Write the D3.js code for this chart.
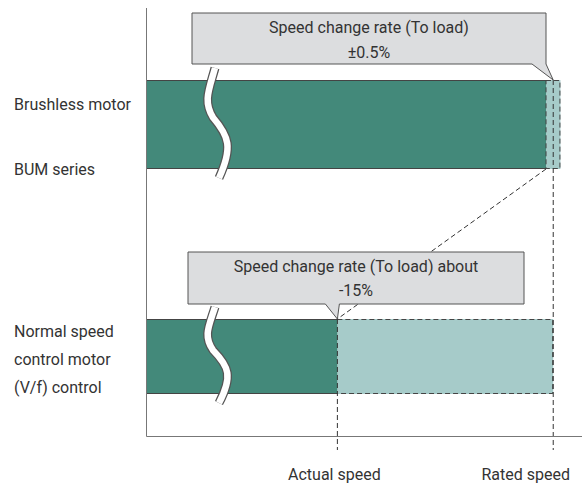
<!DOCTYPE html>
<html><head><meta charset="utf-8">
<script src="https://cdn.jsdelivr.net/npm/d3@7"></script>
<style>
html,body{margin:0;padding:0;background:#fff;}
text{font-family:Roboto,"Liberation Sans",Arial,sans-serif;fill:#333;}
</style></head>
<body><svg id="c" width="582" height="486"></svg>
<script>
// ---- data ----
const categories = ["Brushless motor BUM series", "Normal speed control motor (V/f) control"];
const categoryLabels = [["Brushless motor", "", "BUM series"], ["Normal speed", "control motor", "(V/f) control"]];
const ratedSpeed = 100;                 // % of rated speed
const actualSpeed = [100, 85];          // speed under load (%)
const rangeLow = [99.5, 85];            // lower bound of speed change band
const rangeHigh = [100.5, 100];         // upper bound of speed change band
const calloutLines = [["Speed change rate (To load)", "\u00b10.5%"], ["Speed change rate (To load) about", "-15%"]];
const tickValues = [85, 100];
const tickLabels = ["Actual speed", "Rated speed"];

// ---- layout ----
const svg = d3.select("#c");
const axisLeft = 146, axisBottom = 436, axisTop = 8, axisRight = 582;
const x = d3.scaleLinear().domain([71.7, 102]).range([axisLeft, axisRight]);
const y = d3.scalePoint().domain(categories).range([124.5, 356.5]);
const barH = [89, 75];
const dark = "#43897a", light = "#a6cbc9", edge = "#444";

// diagonal connector (behind callouts)
svg.append("line")
  .attr("x1", x(rangeLow[0])).attr("y1", y(categories[0]) + barH[0]/2)
  .attr("x2", x(actualSpeed[1])).attr("y2", y(categories[1]) - barH[1]/2)
  .attr("stroke", "#333").attr("stroke-width", 1).attr("stroke-dasharray", "5,3");

// bars
categories.forEach((c, i) => {
  const top = y(c) - barH[i]/2, h = barH[i];
  const darkEnd = i === 0 ? x(rangeLow[i]) : x(actualSpeed[i]);
  // light band
  svg.append("rect").attr("x", x(rangeLow[i])).attr("y", top)
    .attr("width", x(rangeHigh[i]) - x(rangeLow[i])).attr("height", h)
    .attr("fill", light);
  // dark bar
  svg.append("rect").attr("x", axisLeft).attr("y", top)
    .attr("width", darkEnd - axisLeft).attr("height", h)
    .attr("fill", dark);
  // dark bar solid edges
  svg.append("path").attr("d", `M${axisLeft},${top+0.5}H${darkEnd}M${axisLeft},${top+h-0.5}H${darkEnd}`)
    .attr("stroke", edge).attr("stroke-width", 1).attr("fill", "none");
  // light band dashed outline
  svg.append("path")
    .attr("d", `M${x(rangeLow[i])},${top+0.5}H${x(rangeHigh[i])-0.5}V${top+h-0.5}H${x(rangeLow[i])}` + (i===0 ? `V${top}` : ""))
    .attr("stroke", edge).attr("stroke-width", 1).attr("fill", "none").attr("stroke-dasharray", "5,3");
  // break squiggle
  const bx = 207, yt = top - 12, yb = top + h + 9, hh = yb - yt;
  const p = d3.path();
  p.moveTo(bx + 8, yt);
  p.bezierCurveTo(bx + 2, yt + hh*0.2, bx - 4, yt + hh*0.3, bx + 6, yt + hh*0.45);
  p.bezierCurveTo(bx + 22, yt + hh*0.62, bx + 26, yt + hh*0.72, bx + 12, yb);
  svg.append("path").attr("d", p.toString()).attr("fill", "none").attr("stroke", "#555").attr("stroke-width", 9);
  svg.append("path").attr("d", p.toString()).attr("fill", "none").attr("stroke", "#fff").attr("stroke-width", 6.5);
});

// reference dashed verticals
svg.append("line").attr("x1", x(ratedSpeed)).attr("x2", x(ratedSpeed))
  .attr("y1", y(categories[0]) - barH[0]/2).attr("y2", 450)
  .attr("stroke", "#333").attr("stroke-dasharray", "5,3");
svg.append("line").attr("x1", x(actualSpeed[1])).attr("x2", x(actualSpeed[1]))
  .attr("y1", y(categories[1]) - barH[1]/2).attr("y2", 450)
  .attr("stroke", "#333").attr("stroke-dasharray", "5,3");

// axes
svg.append("path").attr("d", `M${axisLeft+0.5},${axisTop}V${axisBottom+0.5}H${axisRight}`)
  .attr("fill", "none").attr("stroke", "#777").attr("stroke-width", 1);

// callouts
const fill = "#dcdddf";
// callout 1
{
  const L = 192, R = 546, T = 13, B = 64, tipX = x(ratedSpeed), tipY = y(categories[0]) - barH[0]/2;
  svg.append("path").attr("d", `M${L},${T}H${R}V${B}L${tipX},${tipY}L${R-14},${B}H${L}Z`)
    .attr("fill", fill).attr("stroke", "#555").attr("stroke-width", 1);
  const cx = (L + R)/2;
  svg.append("text").attr("x", cx).attr("y", 33).attr("text-anchor", "middle").attr("font-size", 16).text(calloutLines[0][0]);
  svg.append("text").attr("x", cx).attr("y", 58).attr("text-anchor", "middle").attr("font-size", 16).text(calloutLines[0][1]);
}
// callout 2
{
  const L = 188, R = 524, T = 252, B = 304, tipX = x(actualSpeed[1]), tipY = y(categories[1]) - barH[1]/2;
  svg.append("path").attr("d", `M${L},${T}H${R}V${B}H${tipX+2}L${tipX},${tipY}L${tipX-12},${B}H${L}Z`)
    .attr("fill", fill).attr("stroke", "#555").attr("stroke-width", 1);
  const cx = (L + R)/2;
  svg.append("text").attr("x", cx).attr("y", 272).attr("text-anchor", "middle").attr("font-size", 16).text(calloutLines[1][0]);
  svg.append("text").attr("x", cx).attr("y", 296).attr("text-anchor", "middle").attr("font-size", 16).text(calloutLines[1][1]);
}

// category labels
const labelBase = [[110, 142, 175], [337, 365, 393]];
categoryLabels.forEach((lines, i) => {
  lines.forEach((t, j) => {
    if (!t) return;
    svg.append("text").attr("x", 14).attr("y", labelBase[i][j]).attr("font-size", 16).text(t);
  });
});

// tick labels
svg.append("text").attr("x", x(tickValues[0]) - 3).attr("y", 480).attr("text-anchor", "middle").attr("font-size", 16).text(tickLabels[0]);
svg.append("text").attr("x", 570).attr("y", 480).attr("text-anchor", "end").attr("font-size", 16).text(tickLabels[1]);
</script></body></html>
